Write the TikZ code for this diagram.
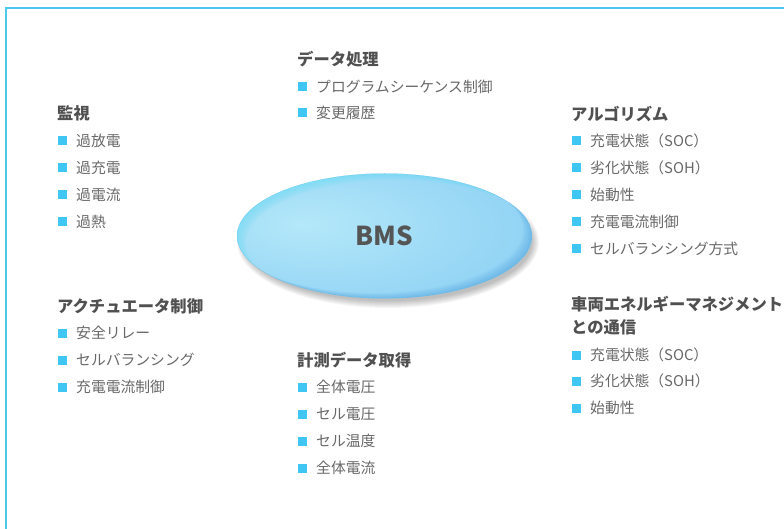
\documentclass[tikz,border=0pt]{standalone}
\usepackage{fontspec}
\setmainfont{Noto Sans CJK JP}
\usetikzlibrary{shapes.geometric}
\definecolor{framec}{HTML}{4FC8F0}
\definecolor{bulc}{HTML}{40C6F2}
\definecolor{hdc}{HTML}{505050}
\definecolor{itc}{HTML}{686868}
\definecolor{bmsc}{HTML}{555555}
\definecolor{ea}{HTML}{B4E8F9}
\definecolor{eb}{HTML}{9DDAF6}
\definecolor{ec}{HTML}{8ACFF3}
\definecolor{ed}{HTML}{62B5E8}
\definecolor{ee}{HTML}{4A9FDE}
\definecolor{rimc}{HTML}{5EDDF5}
\definecolor{rimd}{HTML}{3F96DA}
\pgfdeclareradialshading{bmsshade}{\pgfpoint{-14bp}{5bp}}{color(0bp)=(ea); color(22bp)=(eb); color(42bp)=(ec); color(54bp)=(ed); color(66bp)=(ee); color(80bp)=(ee)}
\tikzset{
  hdr/.style={anchor=west, inner sep=0pt, text=hdc, font=\fontsize{16.3}{23}\selectfont\bfseries, align=left},
  itm/.style={anchor=west, inner sep=0pt, text=itc, font=\fontsize{14.8}{18}\selectfont},
  bul/.style={anchor=west, inner sep=0pt, minimum size=9pt, fill=bulc},
}
\newcommand\myitem[4]{\node[bul] (#1b) at (#2+1,#3) {}; \node[itm] (#1) at (#2+19,#3) {#4};}
\begin{document}
\begin{tikzpicture}[x=1pt,y=-1pt]
\clip (0,0) rectangle (784,529);
\draw[framec, line width=2.3pt] (6,8) rectangle (820,560);
% shadow
\foreach \i in {0,...,7}
  \fill[black, opacity=0.035] (388,242) ellipse ({151pt-\i pt} and {66pt-\i pt});
\node[ellipse, minimum width=295pt, minimum height=125pt, shade, shading=bmsshade, inner sep=0pt] (bms) at (384.5,236) {};
\begin{scope}
  \clip (384.5,236) ellipse (147.5pt and 62.5pt);
  \foreach \d in {1.5,3,...,10.5}
    \fill[rimc, opacity=0.09, even odd rule] (384.5,236) ellipse (147.5pt and 62.5pt) (384.5+\d,236+0.7*\d) ellipse (149pt and 63.5pt);
  \foreach \d in {1.5,3,...,10.5}
    \fill[rimd, opacity=0.07, even odd rule] (384.5,236) ellipse (147.5pt and 62.5pt) (384.5-\d,236-0.6*\d) ellipse (149pt and 63.5pt);
\end{scope}
\node[text=bmsc, font=\fontsize{26}{30}\selectfont\bfseries, inner sep=0pt] (bmst) at (bms.center) {BMS};
% 監視
\node[hdr] (h1) at (57,113) {監視};
\myitem{h1a}{57}{141}{過放電}
\myitem{h1b}{57}{168}{過充電}
\myitem{h1c}{57}{195}{過電流}
\myitem{h1d}{57}{222}{過熱}
% アクチュエータ制御
\node[hdr] (h2) at (57,306) {アクチュエータ制御};
\myitem{h2a}{57}{333}{安全リレー}
\myitem{h2b}{57}{360}{セルバランシング}
\myitem{h2c}{57}{387}{充電電流制御}
% データ処理
\node[hdr] (h3) at (297,59) {データ処理};
\myitem{h3a}{297}{87}{プログラムシーケンス制御}
\myitem{h3b}{297}{113}{変更履歴}
% 計測データ取得
\node[hdr] (h4) at (297,360) {計測データ取得};
\myitem{h4a}{297}{387}{全体電圧}
\myitem{h4b}{297}{414}{セル電圧}
\myitem{h4c}{297}{441}{セル温度}
\myitem{h4d}{297}{468}{全体電流}
% アルゴリズム
\node[hdr] (h5) at (571,114) {アルゴリズム};
\myitem{h5a}{571}{141}{充電状態（SOC）}
\myitem{h5b}{571}{168}{劣化状態（SOH）}
\myitem{h5c}{571}{195}{始動性}
\myitem{h5d}{571}{222}{充電電流制御}
\myitem{h5e}{571}{249}{セルバランシング方式}
% 車両エネルギーマネジメントとの通信
\node[hdr] (h6) at (571,315.5) {車両エネルギーマネジメント\\との通信};
\myitem{h6a}{571}{355}{充電状態（SOC）}
\myitem{h6b}{571}{381}{劣化状態（SOH）}
\myitem{h6c}{571}{408}{始動性}
\end{tikzpicture}
\end{document}
